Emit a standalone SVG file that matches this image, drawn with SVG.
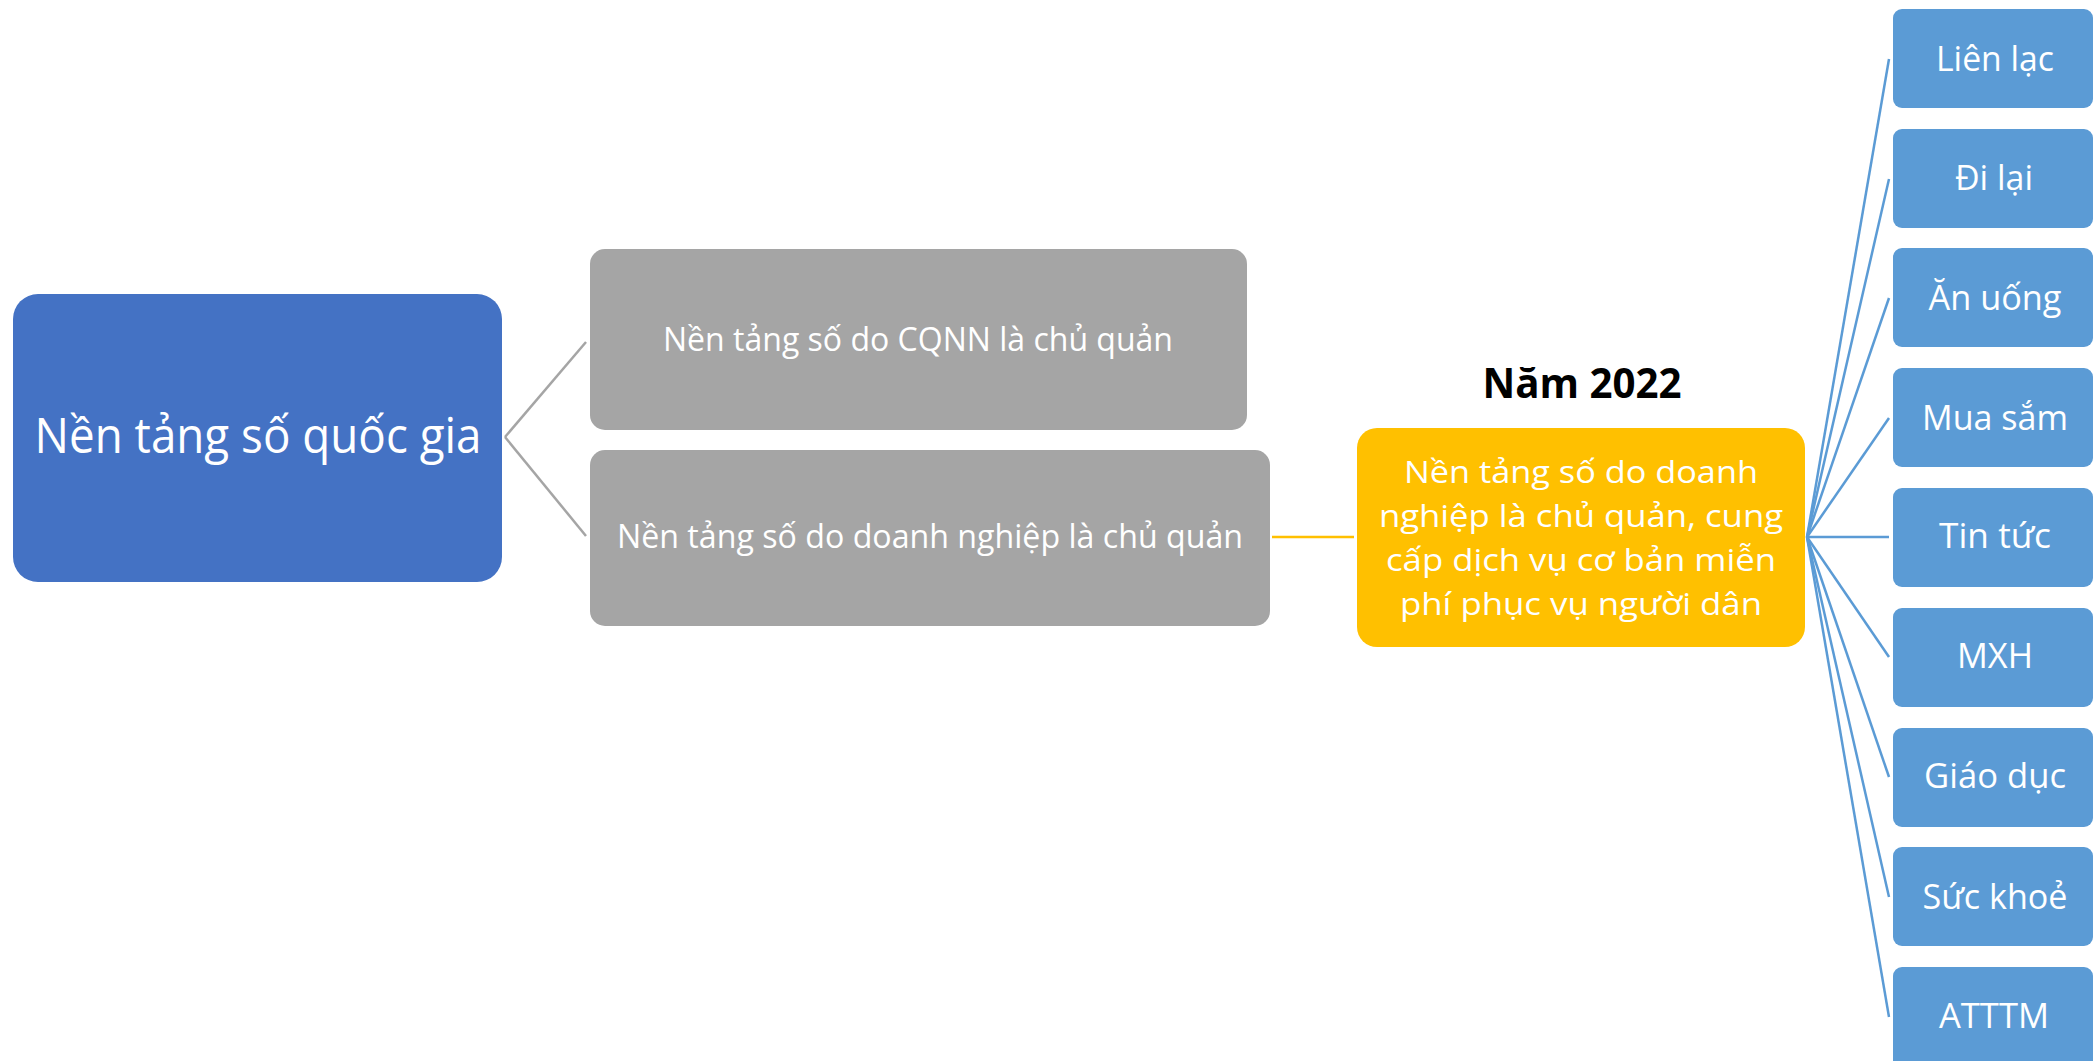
<svg xmlns="http://www.w3.org/2000/svg" width="2094" height="1061" viewBox="0 0 2094 1061">
<style>
text{font-family:"Open Sans","Noto Sans","DejaVu Sans",sans-serif;fill:#ffffff;text-anchor:middle}
.c-gray{stroke:#A5A5A5;stroke-width:2.5;fill:none}
.c-yel{stroke:#FFC000;stroke-width:2.5;fill:none}
.c-blue{stroke:#5B9BD5;stroke-width:2.5;fill:none}
.main{fill:#4472C4}
.gray{fill:#A5A5A5}
.yel{fill:#FFC000}
.leaf{fill:#5B9BD5}
.leaf-t{font-size:35px}
.gray-t{font-size:32px}
.yel-t{font-size:31px}
</style>
<rect width="2094" height="1061" fill="#ffffff"/>
<g id="connectors">
<line class="c-gray" x1="505" y1="437" x2="586" y2="342"/>
<line class="c-gray" x1="505" y1="437" x2="586" y2="536"/>
<line class="c-yel" x1="1272" y1="537" x2="1354" y2="537"/>
<line class="c-blue" x1="1807" y1="537" x2="1889" y2="59"/>
<line class="c-blue" x1="1807" y1="537" x2="1889" y2="179"/>
<line class="c-blue" x1="1807" y1="537" x2="1889" y2="298"/>
<line class="c-blue" x1="1807" y1="537" x2="1889" y2="418"/>
<line class="c-blue" x1="1807" y1="537" x2="1889" y2="537"/>
<line class="c-blue" x1="1807" y1="537" x2="1889" y2="657"/>
<line class="c-blue" x1="1807" y1="537" x2="1889" y2="777"/>
<line class="c-blue" x1="1807" y1="537" x2="1889" y2="897"/>
<line class="c-blue" x1="1807" y1="537" x2="1889" y2="1017"/>
</g>
<g id="node-root">
<rect class="main" x="13" y="294" width="489" height="288" rx="25"/>
<text x="258" y="453" font-size="49" textLength="447" lengthAdjust="spacingAndGlyphs">Nền tảng số quốc gia</text>
</g>
<g id="node-cqnn">
<rect class="gray" x="590" y="249" width="657" height="181" rx="15"/>
<text class="gray-t" x="918" y="351" textLength="510" lengthAdjust="spacingAndGlyphs">Nền tảng số do CQNN là chủ quản</text>
</g>
<g id="node-dn">
<rect class="gray" x="590" y="450" width="680" height="176" rx="15"/>
<text class="gray-t" x="930" y="548" textLength="626" lengthAdjust="spacingAndGlyphs">Nền tảng số do doanh nghiệp là chủ quản</text>
</g>
<g id="label-2022">
<text x="1582" y="398" font-size="42" font-weight="bold" style="fill:#000000" textLength="199" lengthAdjust="spacingAndGlyphs">Năm 2022</text>
</g>
<g id="node-free">
<rect class="yel" x="1357" y="428" width="448" height="219" rx="20"/>
<text class="yel-t" x="1581" y="483" textLength="354" lengthAdjust="spacingAndGlyphs">Nền tảng số do doanh</text>
<text class="yel-t" x="1581" y="527" textLength="404" lengthAdjust="spacingAndGlyphs">nghiệp là chủ quản, cung</text>
<text class="yel-t" x="1581" y="571" textLength="390" lengthAdjust="spacingAndGlyphs">cấp dịch vụ cơ bản miễn</text>
<text class="yel-t" x="1581" y="615" textLength="362" lengthAdjust="spacingAndGlyphs">phí phục vụ người dân</text>
</g>
<g id="leaf-lienlac">
<rect class="leaf" x="1893" y="9" width="200" height="99" rx="9"/>
<text class="leaf-t" x="1995" y="71" textLength="118" lengthAdjust="spacingAndGlyphs">Liên lạc</text>
</g>
<g id="leaf-dilai">
<rect class="leaf" x="1893" y="129" width="200" height="99" rx="9"/>
<text class="leaf-t" x="1994" y="190" textLength="78" lengthAdjust="spacingAndGlyphs">Đi lại</text>
</g>
<g id="leaf-anuong">
<rect class="leaf" x="1893" y="248" width="200" height="99" rx="9"/>
<text class="leaf-t" x="1995" y="310" textLength="133" lengthAdjust="spacingAndGlyphs">Ăn uống</text>
</g>
<g id="leaf-muasam">
<rect class="leaf" x="1893" y="368" width="200" height="99" rx="9"/>
<text class="leaf-t" x="1995" y="430" textLength="146" lengthAdjust="spacingAndGlyphs">Mua sắm</text>
</g>
<g id="leaf-tintuc">
<rect class="leaf" x="1893" y="488" width="200" height="99" rx="9"/>
<text class="leaf-t" x="1995" y="548" textLength="112" lengthAdjust="spacingAndGlyphs">Tin tức</text>
</g>
<g id="leaf-mxh">
<rect class="leaf" x="1893" y="608" width="200" height="99" rx="9"/>
<text class="leaf-t" x="1995" y="668" textLength="76" lengthAdjust="spacingAndGlyphs">MXH</text>
</g>
<g id="leaf-giaoduc">
<rect class="leaf" x="1893" y="728" width="200" height="99" rx="9"/>
<text class="leaf-t" x="1995" y="788" textLength="142" lengthAdjust="spacingAndGlyphs">Giáo dục</text>
</g>
<g id="leaf-suckhoe">
<rect class="leaf" x="1893" y="847" width="200" height="99" rx="9"/>
<text class="leaf-t" x="1995" y="909" textLength="145" lengthAdjust="spacingAndGlyphs">Sức khoẻ</text>
</g>
<g id="leaf-atttm">
<rect class="leaf" x="1893" y="967" width="200" height="110" rx="9"/>
<text class="leaf-t" x="1994" y="1028" textLength="110" lengthAdjust="spacingAndGlyphs">ATTTM</text>
</g>
</svg>
